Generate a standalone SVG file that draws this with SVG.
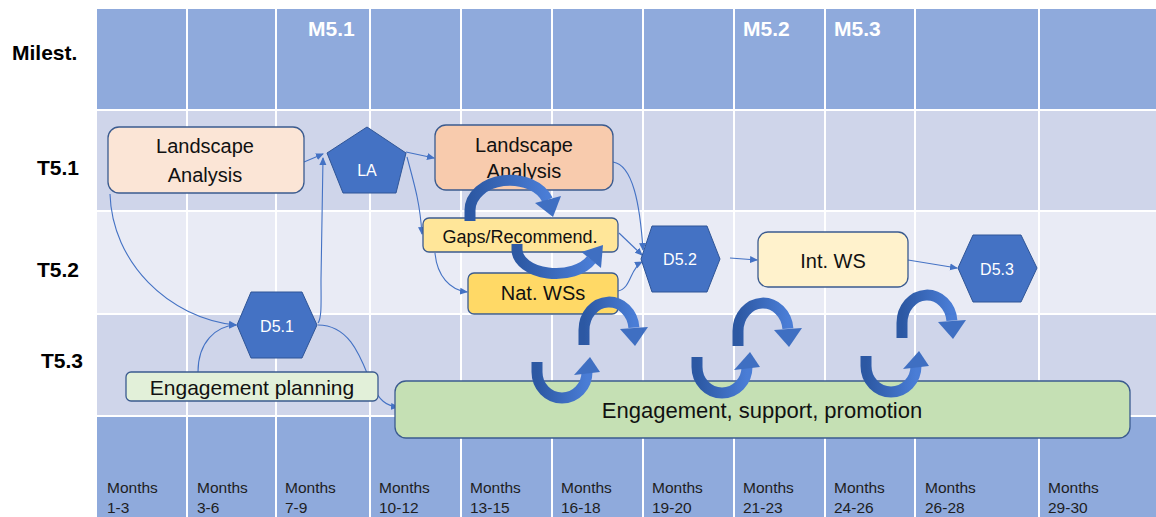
<svg xmlns="http://www.w3.org/2000/svg" xmlns:xlink="http://www.w3.org/1999/xlink" width="1156" height="517" viewBox="0 0 1156 517">
<defs>
<style>
.band{fill:#8faadc}
.r1{fill:#cfd5ea}
.r2{fill:#e9ebf5}
.grid{stroke:#fff;stroke-width:2}
.lbl{font-family:"Liberation Sans",Arial,sans-serif;font-weight:bold;font-size:21px;fill:#000}
.ms{font-family:"Liberation Sans",Arial,sans-serif;font-weight:bold;font-size:21px;fill:#fff}
.mo{font-family:"Liberation Sans",Arial,sans-serif;font-size:15.5px;fill:#1e1e1e}
.box{stroke:#3b5b8f;stroke-width:1.3}
.t{font-family:"Liberation Sans",Arial,sans-serif;fill:#111;text-anchor:middle}
.hex{fill:#4472c4;stroke:#2f5597;stroke-width:1}
.ht{font-family:"Liberation Sans",Arial,sans-serif;fill:#fff;text-anchor:middle;font-size:16px}
.con{fill:none;stroke:#4472c4;stroke-width:1.1;marker-end:url(#ah)}
.ca{fill:none;stroke:url(#cg);stroke-width:11}
.cah{fill:#3f6fc2}
</style>
<marker id="ah" markerWidth="8" markerHeight="8" refX="7" refY="4" orient="auto" markerUnits="userSpaceOnUse"><path d="M0,0.5 L8,4 L0,7.5 z" fill="#4472c4"/></marker>
<linearGradient id="cg" x1="0" y1="0" x2="1" y2="0"><stop offset="0" stop-color="#2c58a3"/><stop offset="1" stop-color="#4a7dd6"/></linearGradient>
<g id="capT">
<path class="ca" d="M 584 345 L 584 330 A 25 28 0 0 1 633.9 327.6"/>
<polygon class="cah" points="620,329 648,327 635,346"/>
</g>
<g id="cupB">
<path class="ca" d="M 537 362 L 537 372 A 25 26 0 0 0 587 372"/>
<polygon class="cah" points="574,375 600,372 590,357"/>
</g>
</defs>

<rect width="1156" height="517" fill="#fff"/>
<g id="grid">
<rect class="band" x="97" y="9" width="1059" height="100"/>
<rect class="r1" x="97" y="111" width="1059" height="99"/>
<rect class="r2" x="97" y="212" width="1059" height="101"/>
<rect class="r1" x="97" y="315" width="1059" height="100"/>
<rect class="band" x="97" y="417" width="1059" height="100"/>
<g class="grid">
<line x1="187" y1="9" x2="187" y2="517"/>
<line x1="276" y1="9" x2="276" y2="517"/>
<line x1="370" y1="9" x2="370" y2="517"/>
<line x1="461" y1="9" x2="461" y2="517"/>
<line x1="552" y1="9" x2="552" y2="517"/>
<line x1="643" y1="9" x2="643" y2="517"/>
<line x1="734" y1="9" x2="734" y2="517"/>
<line x1="825" y1="9" x2="825" y2="517"/>
<line x1="915" y1="9" x2="915" y2="517"/>
<line x1="1039" y1="9" x2="1039" y2="517"/>
</g>
</g>

<g id="row-labels">
<text class="lbl" x="12" y="60">Milest.</text>
<text class="lbl" x="37" y="175">T5.1</text>
<text class="lbl" x="37" y="277">T5.2</text>
<text class="lbl" x="41" y="368">T5.3</text>
</g>

<g id="milestones">
<text class="ms" x="308" y="36">M5.1</text>
<text class="ms" x="743" y="36">M5.2</text>
<text class="ms" x="834" y="36">M5.3</text>
</g>

<g id="months">
<text class="mo" x="107" y="493">Months<tspan x="107" y="513">1-3</tspan></text>
<text class="mo" x="197" y="493">Months<tspan x="197" y="513">3-6</tspan></text>
<text class="mo" x="285" y="493">Months<tspan x="285" y="513">7-9</tspan></text>
<text class="mo" x="379" y="493">Months<tspan x="379" y="513">10-12</tspan></text>
<text class="mo" x="470" y="493">Months<tspan x="470" y="513">13-15</tspan></text>
<text class="mo" x="561" y="493">Months<tspan x="561" y="513">16-18</tspan></text>
<text class="mo" x="652" y="493">Months<tspan x="652" y="513">19-20</tspan></text>
<text class="mo" x="743" y="493">Months<tspan x="743" y="513">21-23</tspan></text>
<text class="mo" x="834" y="493">Months<tspan x="834" y="513">24-26</tspan></text>
<text class="mo" x="925" y="493">Months<tspan x="925" y="513">26-28</tspan></text>
<text class="mo" x="1048" y="493">Months<tspan x="1048" y="513">29-30</tspan></text>
</g>

<g id="connectors">
<path class="con" d="M 304 162 L 323 154"/>
<path class="con" d="M 318 323 C 322 318 321 300 321 280 L 323 158"/>
<path class="con" d="M 110 194 C 112 262 168 318 236 325"/>
<path class="con" d="M 198 372 C 198 342 216 326 236 325"/>
<path class="con" d="M 318 325 C 352 325 362 362 372 385 C 379 400 386 406 398 407"/>
<path class="con" d="M 406 152 L 434 158"/>
<path class="con" d="M 407 157 C 416 190 420 205 422 234"/>
<path class="con" d="M 435 253 C 437 276 450 290 467 292"/>
<path class="con" d="M 613 162 C 633 165 640 205 643 250"/>
<path class="con" d="M 619 233 L 642 255"/>
<path class="con" d="M 618 291 C 631 289 630 268 642 262"/>
<path class="con" d="M 730 258 L 757 260"/>
<path class="con" d="M 908 260 L 957 268"/>
</g>

<g id="landscape-analysis-1">
<rect class="box" x="108" y="127" width="196" height="66" rx="11" fill="#fbe5d6"/>
<text class="t" x="205" y="153" font-size="20">Landscape</text>
<text class="t" x="205" y="182" font-size="20">Analysis</text>
</g>
<g id="la">
<polygon class="hex" points="367,127 406,153 396,193 343,193 327,153"/>
<text class="ht" x="367" y="176" font-size="18">LA</text>
</g>
<g id="landscape-analysis-2">
<rect class="box" x="435" y="125" width="178" height="65" rx="11" fill="#f8cbad"/>
<text class="t" x="524" y="152" font-size="20">Landscape</text>
<text class="t" x="524" y="178" font-size="20">Analysis</text>
</g>
<g id="gaps">
<rect class="box" x="423" y="218" width="195" height="34" rx="6" fill="#ffe699"/>
<text class="t" x="520" y="243" font-size="18">Gaps/Recommend.</text>
</g>
<g id="nat-ws">
<rect class="box" x="468" y="273" width="150" height="41" rx="6" fill="#ffd966"/>
<text class="t" x="543" y="300" font-size="20">Nat. WSs</text>
</g>
<g id="d52">
<polygon class="hex" points="652,226 707,226 720,259 707,292 652,292 641,259"/>
<text class="ht" x="680" y="265">D5.2</text>
</g>
<g id="int-ws">
<rect class="box" x="758" y="232" width="150" height="55" rx="10" fill="#fff2cc"/>
<text class="t" x="833" y="268" font-size="20">Int. WS</text>
</g>
<g id="d53">
<polygon class="hex" points="973,235 1021,235 1037,268 1021,302 973,302 958,268"/>
<text class="ht" x="997" y="275">D5.3</text>
</g>
<g id="d51">
<polygon class="hex" points="251,292 302,292 317,325 302,358 251,358 237,325"/>
<text class="ht" x="277" y="332">D5.1</text>
</g>
<g id="engagement-planning">
<rect class="box" x="126" y="372" width="252" height="29" rx="5" fill="#e2f0d9"/>
<text class="t" x="252" y="395" font-size="21">Engagement planning</text>
</g>
<g id="engagement-support">
<rect class="box" x="395" y="381" width="735" height="57" rx="11" fill="#c5e0b4"/>
<text class="t" x="762" y="418" font-size="22">Engagement, support, promotion</text>
</g>

<g id="cycles">
<path class="ca" d="M 470 221 L 470 210 A 40 30 0 0 1 547.6 200"/>
<polygon class="cah" points="535,203 561,196 553,217"/>
<path class="ca" d="M 517 244 L 517 250 A 39 24 0 0 0 591.3 259.7"/>
<polygon class="cah" points="581.5,252 601,268 603,245"/>
<use xlink:href="#capT"/>
<use xlink:href="#capT" transform="translate(154,1)"/>
<use xlink:href="#capT" transform="translate(318,-7)"/>
<use xlink:href="#cupB"/>
<use xlink:href="#cupB" transform="translate(160,-5)"/>
<use xlink:href="#cupB" transform="translate(329,-6)"/>
</g>
</svg>
